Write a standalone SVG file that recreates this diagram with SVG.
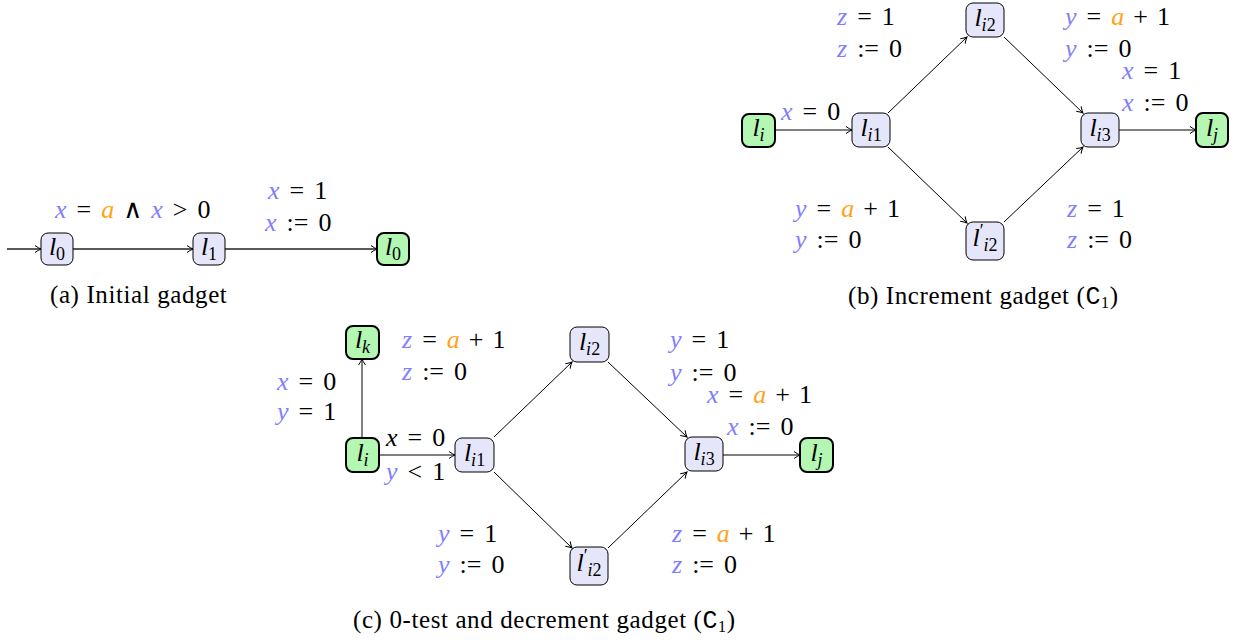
<svg xmlns="http://www.w3.org/2000/svg" width="1239" height="640" viewBox="0 0 1239 640">
<style>
.n{fill:#e6e6fa;stroke:#000;stroke-width:1}
.g{fill:#b3f7b3;stroke:#000;stroke-width:2}
.e{stroke:#000;stroke-width:1;fill:none;marker-end:url(#ah)}
.ea{stroke:#222;stroke-width:1.4;fill:none;marker-end:url(#ah)}
.m{font-size:26px;fill:#000}
.v{fill:#8080ff;font-style:italic}
.o{fill:#ffa31a;font-style:italic}
.i{font-style:italic}
.s{font-size:18px}
.c{font-size:25px;fill:#000;letter-spacing:0.6px}
</style>
<defs>
<marker id="ah" markerWidth="10" markerHeight="10" refX="0" refY="0" viewBox="-8 -5 10 10" orient="auto" markerUnits="userSpaceOnUse">
<path d="M-6,-3.5 Q-2.5,-1 0,0 Q-2.5,1 -6,3.5" fill="none" stroke="#000" stroke-width="1"/>
</marker>
</defs>

<g id="connectors">
<line class="ea" x1="7" y1="249" x2="41" y2="249"/>
<line class="ea" x1="73" y1="249" x2="193" y2="249"/>
<line class="ea" x1="225" y1="249" x2="377" y2="249"/>

<line class="e" x1="775" y1="130" x2="852" y2="130"/>
<line class="e" x1="888" y1="113" x2="967" y2="37"/>
<line class="e" x1="1004" y1="37" x2="1083" y2="113"/>
<line class="e" x1="888" y1="147" x2="967" y2="223"/>
<line class="e" x1="1004" y1="222" x2="1083" y2="147"/>
<line class="e" x1="1119" y1="130" x2="1196" y2="130"/>

<line class="e" x1="362" y1="438" x2="362" y2="359"/>
<line class="e" x1="379" y1="455" x2="455" y2="455"/>
<line class="e" x1="494" y1="437" x2="572" y2="362"/>
<line class="e" x1="608" y1="362" x2="687" y2="437"/>
<line class="e" x1="494" y1="472" x2="572" y2="548"/>
<line class="e" x1="608" y1="548" x2="687" y2="472"/>
<line class="e" x1="723" y1="455" x2="800" y2="455"/>
</g>

<g font-family="Liberation Serif, DejaVu Serif, serif">
<g id="a_l0"><rect class="n" x="41" y="233" width="32" height="32" rx="7"/><text class="m" x="57" y="255" text-anchor="middle"><tspan class="i">l</tspan><tspan class="s" dy="5">0</tspan></text></g>
<g id="a_l1"><rect class="n" x="193" y="233" width="32" height="32" rx="7"/><text class="m" x="209" y="255" text-anchor="middle"><tspan class="i">l</tspan><tspan class="s" dy="5">1</tspan></text></g>
<g id="a_l0g"><rect class="g" x="377" y="233" width="32" height="32" rx="7"/><text class="m" x="393" y="255" text-anchor="middle"><tspan class="i">l</tspan><tspan class="s" dy="5">0</tspan></text></g>

<g id="b_li"><rect class="g" x="742" y="114" width="33" height="33" rx="7"/><text class="m" x="758.5" y="136" text-anchor="middle"><tspan class="i">l</tspan><tspan class="s i" dy="5">i</tspan></text></g>
<g id="b_li1"><rect class="n" x="852" y="113" width="38" height="34" rx="7"/><text class="m" x="871" y="136" text-anchor="middle"><tspan class="i">l</tspan><tspan class="s i" dy="5">i</tspan><tspan class="s">1</tspan></text></g>
<g id="b_li2"><rect class="n" x="966" y="3" width="38" height="34" rx="7"/><text class="m" x="985" y="26" text-anchor="middle"><tspan class="i">l</tspan><tspan class="s i" dy="5">i</tspan><tspan class="s">2</tspan></text></g>
<g id="b_li3"><rect class="n" x="1081" y="113" width="38" height="34" rx="7"/><text class="m" x="1100" y="136" text-anchor="middle"><tspan class="i">l</tspan><tspan class="s i" dy="5">i</tspan><tspan class="s">3</tspan></text></g>
<g id="b_lj"><rect class="g" x="1196" y="113" width="32" height="34" rx="7"/><text class="m" x="1212" y="136" text-anchor="middle"><tspan class="i">l</tspan><tspan class="s i" dy="5">j</tspan></text></g>
<g id="b_lpi2"><rect class="n" x="966" y="222" width="38" height="38" rx="7"/><text class="m" x="985" y="246" text-anchor="middle"><tspan class="i">l</tspan><tspan class="s" dy="-9">′</tspan><tspan class="s i" dy="14">i</tspan><tspan class="s">2</tspan></text></g>

<g id="c_lk"><rect class="g" x="346" y="326" width="33" height="33" rx="7"/><text class="m" x="362.5" y="348" text-anchor="middle"><tspan class="i">l</tspan><tspan class="s i" dy="5">k</tspan></text></g>
<g id="c_li"><rect class="g" x="346" y="438" width="33" height="34" rx="7"/><text class="m" x="362.5" y="461" text-anchor="middle"><tspan class="i">l</tspan><tspan class="s i" dy="5">i</tspan></text></g>
<g id="c_li1"><rect class="n" x="455" y="438" width="39" height="34" rx="7"/><text class="m" x="474.5" y="461" text-anchor="middle"><tspan class="i">l</tspan><tspan class="s i" dy="5">i</tspan><tspan class="s">1</tspan></text></g>
<g id="c_li2"><rect class="n" x="570" y="327" width="39" height="35" rx="7"/><text class="m" x="589.5" y="350" text-anchor="middle"><tspan class="i">l</tspan><tspan class="s i" dy="5">i</tspan><tspan class="s">2</tspan></text></g>
<g id="c_li3"><rect class="n" x="685" y="437" width="38" height="34" rx="7"/><text class="m" x="704" y="460" text-anchor="middle"><tspan class="i">l</tspan><tspan class="s i" dy="5">i</tspan><tspan class="s">3</tspan></text></g>
<g id="c_lj"><rect class="g" x="800" y="438" width="33" height="34" rx="7"/><text class="m" x="816.5" y="461" text-anchor="middle"><tspan class="i">l</tspan><tspan class="s i" dy="5">j</tspan></text></g>
<g id="c_lpi2"><rect class="n" x="570" y="547" width="38" height="38" rx="7"/><text class="m" x="589" y="571" text-anchor="middle"><tspan class="i">l</tspan><tspan class="s" dy="-9">′</tspan><tspan class="s i" dy="14">i</tspan><tspan class="s">2</tspan></text></g>

<g id="labels">
<text class="m" x="55" y="218"><tspan class="v">x</tspan><tspan dx="10">=</tspan><tspan class="o" dx="10">a</tspan><tspan dx="9">∧</tspan><tspan class="v" dx="9">x</tspan><tspan dx="10">&gt;</tspan><tspan dx="10">0</tspan></text>
<text class="m" x="268" y="199"><tspan class="v">x</tspan><tspan dx="10">=</tspan><tspan dx="10">1</tspan></text>
<text class="m" x="265" y="231"><tspan class="v">x</tspan><tspan dx="10">:=</tspan><tspan dx="10">0</tspan></text>

<text class="m" x="837" y="25"><tspan class="v">z</tspan><tspan dx="10">=</tspan><tspan dx="10">1</tspan></text>
<text class="m" x="837" y="57"><tspan class="v">z</tspan><tspan dx="10">:=</tspan><tspan dx="10">0</tspan></text>
<text class="m" x="1065" y="25"><tspan class="v">y</tspan><tspan dx="10">=</tspan><tspan class="o" dx="10">a</tspan><tspan dx="9">+</tspan><tspan dx="9">1</tspan></text>
<text class="m" x="1065" y="57"><tspan class="v">y</tspan><tspan dx="10">:=</tspan><tspan dx="10">0</tspan></text>
<text class="m" x="1122" y="79"><tspan class="v">x</tspan><tspan dx="10">=</tspan><tspan dx="10">1</tspan></text>
<text class="m" x="1122" y="111"><tspan class="v">x</tspan><tspan dx="10">:=</tspan><tspan dx="10">0</tspan></text>
<text class="m" x="781" y="120"><tspan class="v">x</tspan><tspan dx="10">=</tspan><tspan dx="10">0</tspan></text>
<text class="m" x="795" y="217"><tspan class="v">y</tspan><tspan dx="10">=</tspan><tspan class="o" dx="10">a</tspan><tspan dx="9">+</tspan><tspan dx="9">1</tspan></text>
<text class="m" x="795" y="248"><tspan class="v">y</tspan><tspan dx="10">:=</tspan><tspan dx="10">0</tspan></text>
<text class="m" x="1067" y="217"><tspan class="v">z</tspan><tspan dx="10">=</tspan><tspan dx="10">1</tspan></text>
<text class="m" x="1067" y="248"><tspan class="v">z</tspan><tspan dx="10">:=</tspan><tspan dx="10">0</tspan></text>

<text class="m" x="402" y="348"><tspan class="v">z</tspan><tspan dx="10">=</tspan><tspan class="o" dx="10">a</tspan><tspan dx="9">+</tspan><tspan dx="9">1</tspan></text>
<text class="m" x="402" y="380"><tspan class="v">z</tspan><tspan dx="10">:=</tspan><tspan dx="10">0</tspan></text>
<text class="m" x="277" y="390"><tspan class="v">x</tspan><tspan dx="10">=</tspan><tspan dx="10">0</tspan></text>
<text class="m" x="277" y="420"><tspan class="v">y</tspan><tspan dx="10">=</tspan><tspan dx="10">1</tspan></text>
<text class="m" x="386" y="446"><tspan class="i">x</tspan><tspan dx="10">=</tspan><tspan dx="10">0</tspan></text>
<text class="m" x="386" y="480"><tspan class="v">y</tspan><tspan dx="10">&lt;</tspan><tspan dx="10">1</tspan></text>
<text class="m" x="670" y="348"><tspan class="v">y</tspan><tspan dx="10">=</tspan><tspan dx="10">1</tspan></text>
<text class="m" x="670" y="381"><tspan class="v">y</tspan><tspan dx="10">:=</tspan><tspan dx="10">0</tspan></text>
<text class="m" x="707" y="403"><tspan class="v">x</tspan><tspan dx="10">=</tspan><tspan class="o" dx="10">a</tspan><tspan dx="9">+</tspan><tspan dx="9">1</tspan></text>
<text class="m" x="727" y="435"><tspan class="v">x</tspan><tspan dx="10">:=</tspan><tspan dx="10">0</tspan></text>
<text class="m" x="438" y="542"><tspan class="v">y</tspan><tspan dx="10">=</tspan><tspan dx="10">1</tspan></text>
<text class="m" x="438" y="573"><tspan class="v">y</tspan><tspan dx="10">:=</tspan><tspan dx="10">0</tspan></text>
<text class="m" x="672" y="542"><tspan class="v">z</tspan><tspan dx="10">=</tspan><tspan class="o" dx="10">a</tspan><tspan dx="9">+</tspan><tspan dx="9">1</tspan></text>
<text class="m" x="672" y="573"><tspan class="v">z</tspan><tspan dx="10">:=</tspan><tspan dx="10">0</tspan></text>
</g>

<g id="captions">
<text class="c" x="50" y="303">(a) Initial gadget</text>
<text class="c" x="848" y="304">(b) Increment gadget (<tspan font-family="Liberation Mono, DejaVu Sans Mono, monospace">C</tspan><tspan font-size="16" dy="4">1</tspan><tspan dy="-4">)</tspan></text>
<text class="c" x="353" y="628">(c) 0-test and decrement gadget (<tspan font-family="Liberation Mono, DejaVu Sans Mono, monospace">C</tspan><tspan font-size="16" dy="4">1</tspan><tspan dy="-4">)</tspan></text>
</g>
</g>
</svg>
